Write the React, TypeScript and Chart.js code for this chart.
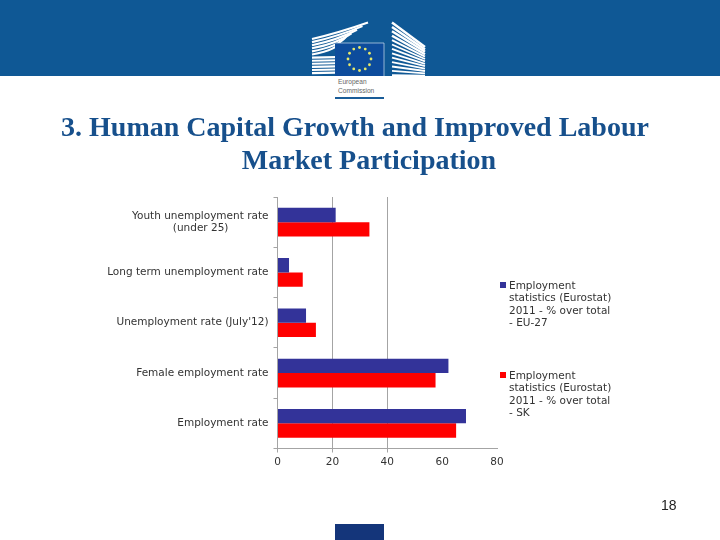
import { useEffect, useRef } from 'react'
import { Chart, registerables } from 'chart.js'

Chart.register(...registerables)

const categories = [
  ['Youth unemployment rate', '(under 25)            '],
  'Long term unemployment rate',
  "Unemployment rate (July'12)",
  'Female employment rate',
  'Employment rate',
]
const euValues = [21.2, 4.2, 10.4, 62.3, 68.7]
const skValues = [33.5, 9.2, 14, 57.6, 65.1]
const xTicks = [0, 20, 40, 60, 80]
const gridValues = [20, 40]
const euLegend = ['Employment', 'statistics (Eurostat)', '2011 - % over total', '- EU-27']
const skLegend = ['Employment', 'statistics (Eurostat)', '2011 - % over total', '- SK']

const EU_COLOR = '#333399'
const SK_COLOR = '#ff0000'
const AXIS_COLOR = '#a4a4a4'
const TEXT_COLOR = '#333333'
const CHART_FONT = '"DejaVu Sans", sans-serif'

const LegendBlock = ({ lines, color, top }: { lines: string[]; color: string; top: number }) => (
  <div style={{ position: 'absolute', left: 500, top, fontFamily: CHART_FONT, fontSize: 10.5, lineHeight: '12.4px', color: TEXT_COLOR }}>
    <span style={{ position: 'absolute', left: 0, top: 3, width: 6, height: 6, background: color }} />
    <div style={{ marginLeft: 9, whiteSpace: 'nowrap' }}>
      {lines.map(line => <div key={line}>{line}</div>)}
    </div>
  </div>
)

// EC logo in the header band
const Logo = () => {
  const leftRows = Array.from({ length: 12 }, (_, i) => i)
  const rightRows = Array.from({ length: 13 }, (_, i) => i)
  const stars = Array.from({ length: 12 }, (_, i) => (i * Math.PI) / 6)
  return (
    <svg width={720} height={100} style={{ position: 'absolute', left: 0, top: 0 }}>
      <rect x={0} y={0} width={720} height={76} fill="#0f5895" />
      {leftRows.map(i => (
        <path
          key={i}
          d={i < 6
            ? `M312 ${39 + i * 3.1} Q338 ${33 + i * 3.4} ${368 - i * 5.5} ${22.5 + i * 3.6}`
            : `M312 ${39 + i * 3.1} L336 ${38.5 + i * 3.1}`}
          stroke="#ffffff"
          strokeWidth={2.1}
          fill="none"
        />
      ))}
      {rightRows.map(i => (
        <path
          key={i}
          d={`M392 ${22.5 + i * 4.4} L425 ${47 + i * 2.4}`}
          stroke="#ffffff"
          strokeWidth={i < 4 ? 2.4 : 1.9}
          fill="none"
        />
      ))}
      <rect x={335} y={43} width={49} height={33} fill="#0d4c9c" />
      <path d="M335 43 H384 V76" stroke="#cfe0ee" strokeWidth={0.7} fill="none" />
      {stars.map((a, i) => (
        <circle key={i} cx={359.5 + 11.5 * Math.sin(a)} cy={59 - 11.5 * Math.cos(a)} r={1.4} fill="#e6e86a" />
      ))}
      <text x={338} y={84} fontFamily="Liberation Sans" fontSize={6.6} fill="#666666">European</text>
      <text x={338} y={93} fontFamily="Liberation Sans" fontSize={6.6} fill="#666666">Commission</text>
      <rect x={335} y={97} width={49} height={2} fill="#1a5c98" />
    </svg>
  )
}

const App = () => {
  const chartRef = useRef<HTMLCanvasElement>(null)

  useEffect(() => {
    if (!chartRef.current) return

    const chart = new Chart(chartRef.current, {
      type: 'bar',
      data: {
        labels: categories,
        datasets: [
          { label: euLegend.join(' '), data: euValues, backgroundColor: EU_COLOR, categoryPercentage: 0.57, barPercentage: 1 },
          { label: skLegend.join(' '), data: skValues, backgroundColor: SK_COLOR, categoryPercentage: 0.57, barPercentage: 1 },
        ],
      },
      options: {
        indexAxis: 'y',
        responsive: false,
        animation: false,
        layout: { padding: { top: 197, right: 223, bottom: 0, left: 0 } },
        plugins: {
          legend: { display: false },
          tooltip: { enabled: false },
        },
        scales: {
          x: {
            min: 0,
            max: 80,
            afterFit: scale => { scale.height = 91.5 },
            afterBuildTicks: scale => { scale.ticks = xTicks.map(value => ({ value })) },
            border: { color: AXIS_COLOR },
            grid: {
              color: ctx => (gridValues.includes(ctx.tick?.value) ? AXIS_COLOR : 'rgba(0,0,0,0)'),
              tickColor: ctx => (ctx.tick?.value === 0 || gridValues.includes(ctx.tick?.value) ? AXIS_COLOR : 'rgba(0,0,0,0)'),
              tickLength: 4,
            },
            ticks: { color: TEXT_COLOR, font: { family: CHART_FONT, size: 10.5 }, padding: 3, maxRotation: 0 },
          },
          y: {
            afterFit: scale => { scale.width = 277.5 },
            border: { color: AXIS_COLOR },
            grid: { drawOnChartArea: false, color: AXIS_COLOR, tickLength: 4 },
            ticks: { color: TEXT_COLOR, font: { family: CHART_FONT, size: 10.5, lineHeight: 1.2 }, padding: 5, autoSkip: false },
          },
        },
      },
    })

    return () => {
      chart.destroy()
    }
  }, [])

  return (
    <div style={{ position: 'fixed', left: 0, top: 0, width: 720, height: 540, background: '#ffffff', overflow: 'hidden' }}>
      <Logo />
      <canvas ref={chartRef} width={720} height={540} style={{ position: 'absolute', left: 0, top: 0 }} />
      <div style={{ position: 'absolute', left: 0, top: 110, width: 710, textAlign: 'center', fontFamily: '"Liberation Serif", serif', fontWeight: 'bold', fontSize: 28, lineHeight: '33px', color: '#17508c', whiteSpace: 'nowrap' }}>
        <div>3. Human Capital Growth and Improved Labour</div>
        <div style={{ paddingLeft: 28 }}>Market Participation</div>
      </div>
      <LegendBlock lines={euLegend} color={EU_COLOR} top={279} />
      <LegendBlock lines={skLegend} color={SK_COLOR} top={369} />
      <div style={{ position: 'absolute', left: 661, top: 497, fontFamily: '"Liberation Sans", sans-serif', fontSize: 14, color: '#222222' }}>18</div>
      <div style={{ position: 'absolute', left: 335, top: 524, width: 49, height: 16, background: '#14357a' }} />
    </div>
  )
}

export default App
